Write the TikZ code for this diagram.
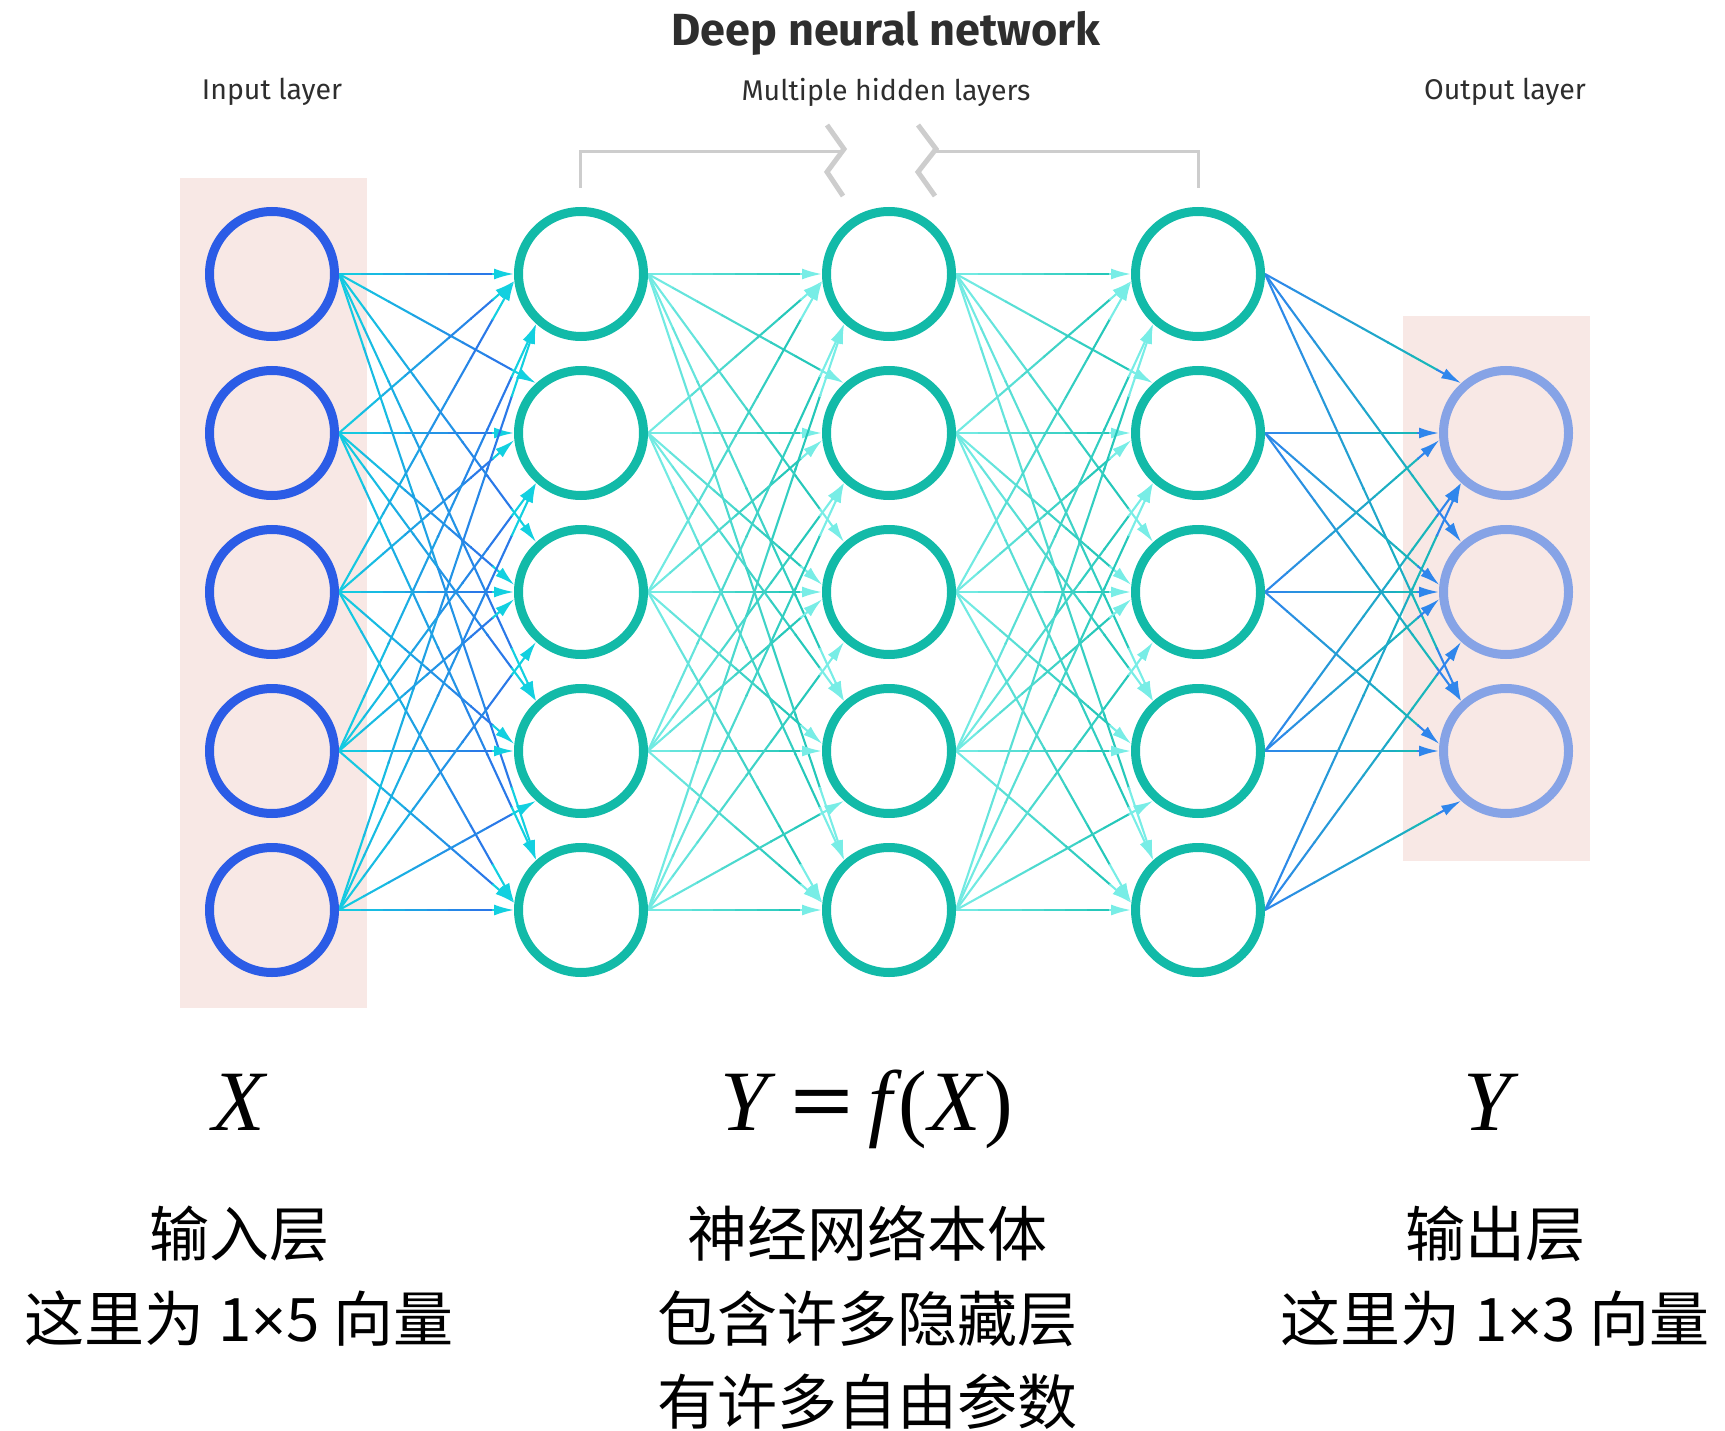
\documentclass[tikz,border=0pt]{standalone}
\usepackage{fontspec}
\usepackage{graphicx}
\setmainfont{Fira Sans}
\newfontfamily\cjkfont{Noto Sans CJK SC}
\newfontfamily\formulafont{Liberation Serif}
\newfontfamily\digitfont{Liberation Sans}
\usetikzlibrary{arrows.meta,calc}

\definecolor{inblue}{HTML}{2B5CE6}
\definecolor{hidteal}{HTML}{12BAA8}
\definecolor{outblue}{HTML}{86A3E6}
\definecolor{bandpink}{HTML}{F8E8E5}
\definecolor{wblue}{HTML}{2F66EA}
\definecolor{wcyan}{HTML}{12D0E0}
\definecolor{wteal}{HTML}{14C0B0}
\definecolor{waqua}{HTML}{78EDE6}
\definecolor{wout}{HTML}{2F86EC}
\definecolor{bracketgray}{HTML}{CDCDCD}
\definecolor{labelgray}{HTML}{2E2E2E}

\tikzset{
  neuron/.style={circle, minimum size=125pt, inner sep=0pt, line width=9pt},
  ring/.style={line width=9pt},
  wire/.style={line width=2.1pt},
  wiretip/.style={-{Latex[length=20pt,width=11pt]}},
  layerlab/.style={font=\fontsize{28.5}{33}\selectfont, text=labelgray},
  formula/.style={font=\formulafont\fontsize{86}{96}\selectfont, anchor=base},
  cjkline/.style={font=\cjkfont\fontsize{60}{70}\selectfont, anchor=base},
  bracketline/.style={draw=bracketgray, line width=3pt},
  breakmark/.style={draw=bracketgray, line width=5pt, line join=miter},
}

% connector from point #1 to point #2, fading from colour #3 to colour #4
\newcommand\gradlink[4]{%
  \coordinate (ls) at (#1);
  \coordinate (le) at (#2);
  \foreach \k in {0,...,6}{%
    \pgfmathsetmacro\fa{\k/8}%
    \pgfmathsetmacro\fb{(\k+1)/8+0.004}%
    \pgfmathtruncatemacro\mix{100-100*(\k+0.5)/8}%
    \draw[wire, color=#4!\mix!#3] ($(ls)!\fa!(le)$) -- ($(ls)!\fb!(le)$);
  }%
  \draw[wire, wiretip, color=#4] ($(ls)!0.875!(le)$) -- (le);
}

% landing angle on a target in row #1 (of five) for a source in row #2
\newcommand\landing[2]{%
  \pgfmathtruncatemacro\lo{{1,2,2,3,3}[#1-1]}%
  \pgfmathtruncatemacro\hi{{3,3,4,4,5}[#1-1]}%
  \pgfmathtruncatemacro\ang{(#2==#1) ? 180 : ((#2<#1) ? ((#2>=\lo) ? 174 : 132) : ((#2<=\hi) ? 186 : 228))}%
}

\begin{document}
\begin{tikzpicture}[x=1pt, y=-1pt]
\useasboundingbox (0,0) rectangle (1725,1431);

% shaded bands behind input and output layers
\fill[bandpink] (180,178) rectangle (367,1008);
\fill[bandpink] (1403,316) rectangle (1590,861);

% neurons
\foreach \j/\y in {1/274, 2/433, 3/592, 4/751, 5/910}{
  \node[neuron] (i\j) at (272,\y) {};
  \node[neuron] (a\j) at (581,\y) {};
  \node[neuron] (b\j) at (889,\y) {};
  \node[neuron] (c\j) at (1198,\y) {};
}
\foreach \j/\y in {1/433, 2/592, 3/751}{
  \node[neuron] (o\j) at (1506,\y) {};
}

% connections: every link leaves its source at the east point
\foreach \s in {1,...,5}{
  \foreach \t in {1,...,5}{
    \landing{\t}{\s}
    \gradlink{i\s.east}{a\t.\ang}{wblue}{wcyan}
    \gradlink{a\s.east}{b\t.\ang}{wteal}{waqua}
    \gradlink{b\s.east}{c\t.\ang}{wteal}{waqua}
  }
  \foreach \t in {1,...,3}{
    \pgfmathtruncatemacro\r{\t+1}
    \landing{\r}{\s}
    \gradlink{c\s.east}{o\t.\ang}{wteal}{wout}
  }
}

% neuron rings
\foreach \j in {1,...,5}{
  \draw[inblue, ring] (i\j.center) circle (62.5pt);
  \draw[hidteal, ring] (a\j.center) circle (62.5pt);
  \draw[hidteal, ring] (b\j.center) circle (62.5pt);
  \draw[hidteal, ring] (c\j.center) circle (62.5pt);
}
\foreach \j in {1,...,3}{
  \draw[outblue, ring] (o\j.center) circle (62.5pt);
}

% bracket over the hidden layers, with break marks
\draw[bracketline] (580,188) -- (580,152) -- (844,152);
\draw[bracketline] (936,152) -- (1198,152) -- (1198,188);
\draw[breakmark] (827,125) -- (844,149) -- (827,172) -- (843,196);
\draw[breakmark] (918,125) -- (936,149) -- (918,172) -- (935,196);

% headings
\node[font=\bfseries\fontsize{45}{52}\selectfont, text=labelgray] (title) at (886,33) {Deep neural network};
\node[layerlab] (lin) at (272,92) {Input layer};
\node[layerlab] (lhid) at (886,92) {Multiple hidden layers};
\node[layerlab] (lout) at (1505,92) {Output layer};

% formulas
\node[formula] (fx) at (239,1130) {\itshape X};
\node[formula] (ff) at (867,1130) {{\itshape Y}\kern22pt\scalebox{1.3}[1]{\bfseries =}\kern14pt{\itshape f}\kern6pt(\kern2pt{\itshape X}\kern3pt)};
\node[formula] (fy) at (1487,1130) {\itshape Y};

% descriptions
\node[cjkline] (d1) at (239,1256) {输入层};
\node[cjkline] (d2) at (239,1341) {这里为 1{\digitfont ×}5 向量};
\node[cjkline] (e1) at (867,1256) {神经网络本体};
\node[cjkline] (e2) at (867,1341) {包含许多隐藏层};
\node[cjkline] (e3) at (867,1424) {有许多自由参数};
\node[cjkline] (g1) at (1495,1256) {输出层};
\node[cjkline] (g2) at (1495,1341) {这里为 1{\digitfont ×}3 向量};
\end{tikzpicture}
\end{document}
